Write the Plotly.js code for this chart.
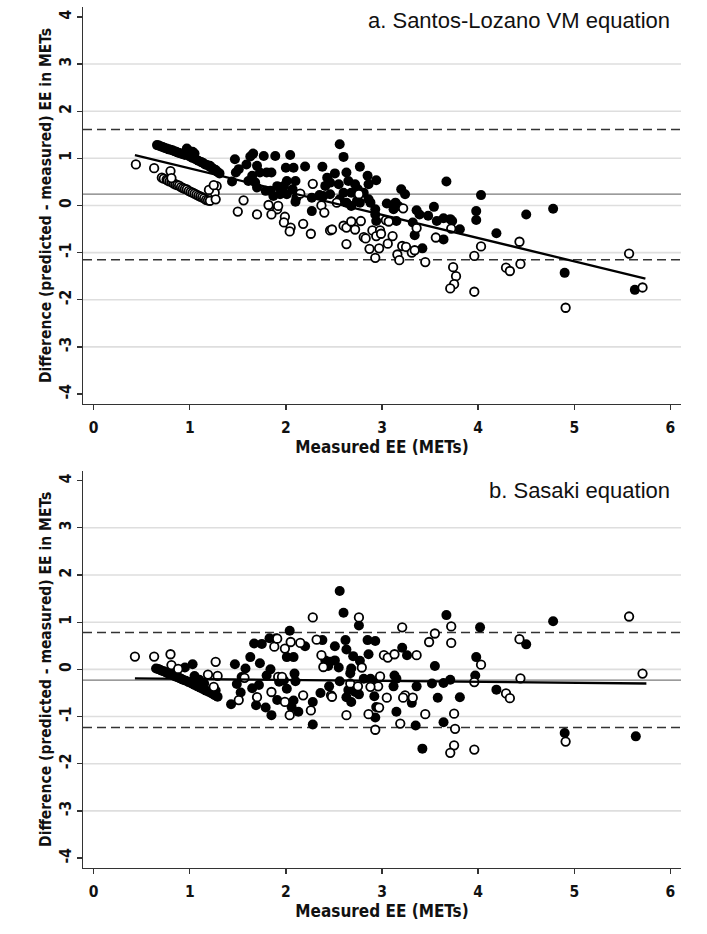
<!DOCTYPE html>
<html>
<head>
<meta charset="utf-8">
<script src="https://cdn.plot.ly/plotly-3.0.1.min.js"></script>
<style>html,body{margin:0;padding:0;background:#fff;}#chart{width:707px;height:934px;}</style>
</head>
<body>
<div id="chart"></div>
<script>
// ---------- Panel a: Santos-Lozano VM equation ----------
const aFilledX = [0.66,0.68,0.70,0.72,0.74,0.76,0.78,0.80,0.82,0.84,0.86,0.88,0.90,0.92,0.95,0.97,0.99,1.00,1.03,1.03,1.05,1.06,1.09,1.12,1.14,1.16,1.18,1.21,1.21,1.23,1.25,1.27,1.29,1.31,
  1.44,1.47,1.48,1.51,1.59,1.66,1.77,1.89,1.65,1.68,1.70,1.73,1.80,1.85,1.61,1.70,1.79,1.84,1.91,1.87,1.94,1.63,
  2.56,2.60,2.045,2.00,2.08,2.20,2.38,2.77,2.51,2.63,2.85,2.94,2.43,2.46,2.55,2.65,2.72,2.86,2.01,2.10,1.98,2.07,2.41,2.60,2.68,2.75,2.81,3.20,3.24,3.67,
  2.01,2.11,2.10,2.27,2.35,2.39,2.46,2.56,2.63,2.68,2.77,2.86,2.88,2.74,2.27,2.93,2.93,2.94,3.05,3.14,3.12,3.17,3.36,3.39,3.54,3.48,3.57,3.64,3.71,3.73,3.81,
  3.15,3.32,3.34,3.64,3.42,3.98,3.98,4.03,4.50,4.78,4.19,4.90,5.63];
const aFilledY = [1.28,1.27,1.25,1.24,1.22,1.21,1.19,1.18,1.17,1.15,1.14,1.12,1.11,1.09,1.07,1.21,1.16,1.04,1.14,1.01,1.10,0.98,0.95,0.92,0.90,0.87,0.86,0.84,0.82,0.80,0.77,0.75,0.71,0.68,
  0.51,0.98,0.70,0.77,0.87,1.10,1.05,1.05,0.63,0.49,0.84,0.70,0.70,0.70,0.52,0.38,0.31,0.31,0.41,0.20,0.24,1.04,
  1.30,1.03,1.07,0.80,0.80,0.825,0.82,0.82,0.68,0.70,0.63,0.535,0.59,0.485,0.45,0.52,0.45,0.45,0.52,0.52,0.415,0.344,0.415,0.27,0.27,0.344,0.27,0.344,0.237,0.51,
  0.237,0.166,0.08,0.166,0.22,0.20,0.237,0.13,0.06,-0.01,0.06,0.13,0.06,0.10,-0.12,-0.08,-0.19,-0.33,0.04,0.06,-0.08,-0.01,-0.10,-0.19,-0.03,-0.22,-0.33,-0.27,-0.29,-0.33,-0.505,
  -0.33,-0.36,-0.63,-0.72,-0.91,-0.12,-0.31,0.22,-0.19,-0.07,-0.59,-1.43,-1.79];
const aOpenX = [0.44,0.63,0.80,
  0.71,0.73,0.76,0.77,0.79,0.81,0.83,0.85,0.87,0.89,0.91,0.93,0.95,0.97,0.99,1.01,1.03,1.05,1.07,1.09,1.11,1.13,1.15,1.17,1.19,1.21,
  1.28,1.26,1.20,1.27,1.25,0.81,
  1.56,1.50,1.70,1.82,1.91,1.85,1.92,
  2.28,2.15,1.99,1.98,2.05,2.04,2.18,2.26,2.37,2.40,2.53,2.76,2.46,2.48,2.60,2.63,2.68,2.78,2.72,2.63,2.81,2.83,2.90,2.98,2.94,2.99,2.87,2.97,2.93,
  3.04,3.07,3.06,3.11,3.16,3.18,3.21,3.25,3.22,3.31,3.34,3.36,3.45,3.56,3.72,3.74,3.77,3.75,3.71,3.96,3.96,4.03,
  4.43,4.29,4.33,4.44,4.91,5.57,5.71];
const aOpenY = [0.87,0.79,0.73,
  0.59,0.57,0.55,0.53,0.51,0.50,0.47,0.45,0.43,0.42,0.39,0.37,0.35,0.34,0.31,0.29,0.27,0.25,0.23,0.21,0.19,0.17,0.15,0.12,0.11,0.10,
  0.41,0.27,0.33,0.13,0.43,0.58,
  0.11,-0.13,-0.19,0.01,-0.08,-0.19,-0.01,
  0.46,0.25,-0.24,-0.36,-0.47,-0.55,-0.39,-0.60,0.0,-0.15,0.06,0.24,-0.53,-0.51,-0.43,-0.47,-0.34,-0.33,-0.51,-0.82,-0.67,-0.70,-0.53,-0.53,-0.65,-0.60,-0.92,-0.91,-1.11,
  -0.31,-0.34,-0.81,-0.65,-1.04,-1.16,-0.86,-0.88,-0.06,-1.00,-0.95,-0.48,-1.20,-0.68,-0.49,-1.31,-1.50,-1.67,-1.76,-1.83,-1.07,-0.87,
  -0.77,-1.32,-1.39,-1.24,-2.17,-1.02,-1.74];
const aMean = 0.24;
const aLimits = [1.61, -1.15];
const aRegX = [0.43, 5.74];
const aRegY = [1.07, -1.55];

// ---------- Panel b: Sasaki equation ----------
const bFilledX = [0.65,0.67,0.69,0.71,0.73,0.75,0.77,0.79,0.81,0.83,0.85,0.87,0.89,0.91,0.93,0.95,0.96,0.99,1.03,1.02,1.05,1.05,1.08,1.11,1.14,1.17,1.20,1.23,1.26,1.29,1.27,1.10,1.15,
  1.43,1.47,1.49,1.53,1.58,1.63,1.67,1.75,1.73,1.69,1.79,1.85,1.72,1.65,1.83,1.90,1.91,1.93,1.80,1.84,1.54,2.04,
  2.56,2.60,2.76,3.67,4.02,2.20,2.38,2.51,2.62,2.63,2.85,2.93,2.86,2.70,2.77,2.01,2.08,2.41,2.46,2.51,2.44,2.55,2.68,2.67,2.09,1.98,2.10,2.56,2.81,2.88,2.91,3.13,3.15,
  3.21,3.26,3.55,3.36,3.52,3.64,3.71,3.98,3.97,2.01,2.08,2.13,2.06,2.28,2.28,2.36,2.45,2.63,2.68,2.76,2.72,2.65,2.92,2.94,2.93,3.12,3.15,3.31,3.35,3.42,3.58,3.64,3.81,
  4.78,4.50,4.19,4.90,5.64];
const bFilledY = [0.02,0.01,-0.01,-0.03,-0.04,-0.06,-0.08,-0.09,-0.11,-0.13,-0.15,-0.16,-0.18,-0.20,-0.22,0.04,-0.24,-0.27,0.11,-0.30,-0.14,-0.33,-0.36,-0.39,-0.42,-0.45,-0.48,-0.51,-0.55,-0.58,-0.45,-0.22,-0.30,
  -0.74,0.11,-0.31,-0.49,0.02,0.26,0.55,0.54,0.13,-0.76,-0.81,-0.97,-0.33,-0.40,0.66,0.66,-0.65,-0.26,-0.13,0.0,-0.16,0.82,
  1.66,1.20,0.93,1.15,0.89,0.49,0.62,0.49,0.62,0.42,0.62,0.60,0.32,0.28,0.18,0.26,0.26,0.19,0.16,0.19,0.07,0.04,0.02,-0.08,-0.09,-0.23,-0.25,-0.25,-0.20,-0.20,-0.27,-0.13,-0.20,
  0.46,0.30,0.07,-0.36,-0.30,-0.29,-0.22,0.26,-0.13,-0.41,-0.66,-0.90,-0.80,-0.69,-1.17,-0.50,-0.36,-0.59,-0.69,-0.53,-0.48,-0.44,-0.57,-0.80,-1.02,-0.36,-0.90,-0.71,-1.19,-1.68,-0.60,-1.12,-0.59,
  1.02,0.53,-0.43,-1.35,-1.42];
const bOpenX = [0.43,0.63,0.80,0.81,0.88,1.27,1.19,1.29,1.25,
  1.57,1.51,1.70,1.85,1.92,1.88,1.91,
  2.28,2.76,3.21,3.72,3.55,3.49,3.72,1.99,2.05,2.15,2.32,2.37,2.39,2.79,3.02,3.06,3.13,3.36,2.98,2.96,2.67,2.75,2.88,2.18,2.47,2.48,3.05,3.24,3.22,3.32,
  2.26,2.04,2.63,2.86,2.97,3.19,2.93,3.45,3.75,3.76,3.75,3.71,3.96,1.96,1.99,3.96,
  4.43,4.03,4.44,4.29,4.33,4.91,5.57,5.71];
const bOpenY = [0.27,0.27,0.32,0.09,0.01,0.16,-0.11,-0.14,-0.37,
  -0.18,-0.65,-0.59,-0.48,-0.16,0.48,0.65,
  1.10,1.10,0.89,0.91,0.76,0.58,0.56,0.44,0.58,0.56,0.63,0.30,0.05,0.04,0.30,0.25,0.32,0.30,-0.15,-0.36,-0.30,-0.36,-0.37,-0.55,-0.55,-0.58,-0.60,-0.55,-0.60,-0.60,
  -0.87,-0.97,-0.97,-0.95,-0.81,-1.15,-1.28,-0.95,-0.94,-1.26,-1.61,-1.77,-1.70,-0.16,-0.69,-0.27,
  0.64,0.10,-0.19,-0.51,-0.61,-1.53,1.12,-0.09];
const bMean = -0.23;
const bLimits = [0.78, -1.23];
const bRegX = [0.43, 5.75];
const bRegY = [-0.19, -0.30];

// ---------- axes / labels ----------
const xTicks = [0,1,2,3,4,5,6];
const yTicks = [-4,-3,-2,-1,0,1,2,3,4];
const gridVals = [-3,-2,-1,0,1,2,3];
const xTitle = 'Measured EE (METs)';
const yTitle = 'Difference (predicted - measured) EE in METs';
const panelTitles = ['a. Santos-Lozano VM equation', 'b. Sasaki equation'];

const narrow = '"Liberation Sans Narrow", "Arial Narrow", "DejaVu Sans Condensed", "Liberation Sans", Arial, sans-serif';
const regular = '"Liberation Sans", Arial, sans-serif';

function pts(x, y, xa, ya, filled) {
  return {
    type: 'scatter', mode: 'markers', x: x, y: y, xaxis: xa, yaxis: ya,
    marker: filled
      ? {symbol: 'circle', size: 10, color: '#000', line: {color: '#000', width: 0}}
      : {symbol: 'circle', size: 8.5, color: '#fff', line: {color: '#000', width: 1.8}},
    hoverinfo: 'x+y', showlegend: false
  };
}
function reg(x, y, xa, ya) {
  return {type: 'scatter', mode: 'lines', x: x, y: y, xaxis: xa, yaxis: ya,
    line: {color: '#000', width: 2.3}, showlegend: false, hoverinfo: 'skip'};
}

const data = [
  pts(aFilledX, aFilledY, 'x', 'y', true),
  pts(aOpenX, aOpenY, 'x', 'y', false),
  reg(aRegX, aRegY, 'x', 'y'),
  pts(bFilledX, bFilledY, 'x2', 'y2', true),
  pts(bOpenX, bOpenY, 'x2', 'y2', false),
  reg(bRegX, bRegY, 'x2', 'y2')
];

const shapes = [];
function hline(xref, yref, val, color, width, dash) {
  shapes.push({type: 'line', xref: xref + ' domain', yref: yref, x0: 0, x1: 1, y0: val, y1: val,
    line: {color: color, width: width, dash: dash}, layer: 'below'});
}
gridVals.forEach(v => { hline('x', 'y', v, '#dedede', 1.6, 'solid'); hline('x2', 'y2', v, '#dedede', 1.6, 'solid'); });
hline('x', 'y', aMean, '#7a7a7a', 1.3, 'solid');
aLimits.forEach(v => hline('x', 'y', v, '#333', 1.5, '9px,5px'));
hline('x2', 'y2', bMean, '#7a7a7a', 1.3, 'solid');
bLimits.forEach(v => hline('x2', 'y2', v, '#333', 1.5, '9px,5px'));

function xaxis(anchor) {
  return {
    anchor: anchor, range: [-0.11, 6.11], tickvals: xTicks, ticktext: xTicks.map(String),
    showgrid: false, zeroline: false, showline: true, linecolor: '#333', linewidth: 1.3,
    ticks: 'outside', ticklen: 5, tickcolor: '#333', tickwidth: 1.3,
    tickfont: {family: narrow, size: 15.5, color: '#111', weight: 'bold'},
    ticklabelstandoff: 4,
    title: {text: xTitle, font: {family: narrow, size: 17, color: '#111', weight: 'bold'}, standoff: 1}
  };
}
function yaxis(anchor, domain) {
  return {
    anchor: anchor, domain: domain, range: [-4.21, 4.21], tickvals: yTicks, ticktext: yTicks.map(String),
    tickangle: -90, showgrid: false, zeroline: false, showline: true, linecolor: '#333', linewidth: 1.3,
    ticks: 'outside', ticklen: 5, tickcolor: '#333', tickwidth: 1.3,
    tickfont: {family: narrow, size: 15.5, color: '#111', weight: 'bold'},
    title: {text: yTitle, font: {family: narrow, size: 15.5, color: '#111', weight: 'bold'}, standoff: 1}
  };
}

const layout = {
  width: 707, height: 934,
  margin: {l: 83, r: 26, t: 7, b: 66},
  paper_bgcolor: '#fff', plot_bgcolor: '#fff',
  showlegend: false,
  xaxis: xaxis('y'),
  yaxis: yaxis('x', [0.539, 1]),
  xaxis2: xaxis('y2'),
  yaxis2: yaxis('x2', [0, 0.4614]),
  shapes: shapes,
  annotations: [
    {text: panelTitles[0], xref: 'x domain', yref: 'y domain', x: 0.985, y: 0.967, xanchor: 'right', yanchor: 'middle',
     showarrow: false, font: {family: regular, size: 22, color: '#111'}},
    {text: panelTitles[1], xref: 'x2 domain', yref: 'y2 domain', x: 0.985, y: 0.951, xanchor: 'right', yanchor: 'middle',
     showarrow: false, font: {family: regular, size: 22, color: '#111'}}
  ]
};

Plotly.newPlot('chart', data, layout, {displayModeBar: false, staticPlot: true});
</script>
</body>
</html>
